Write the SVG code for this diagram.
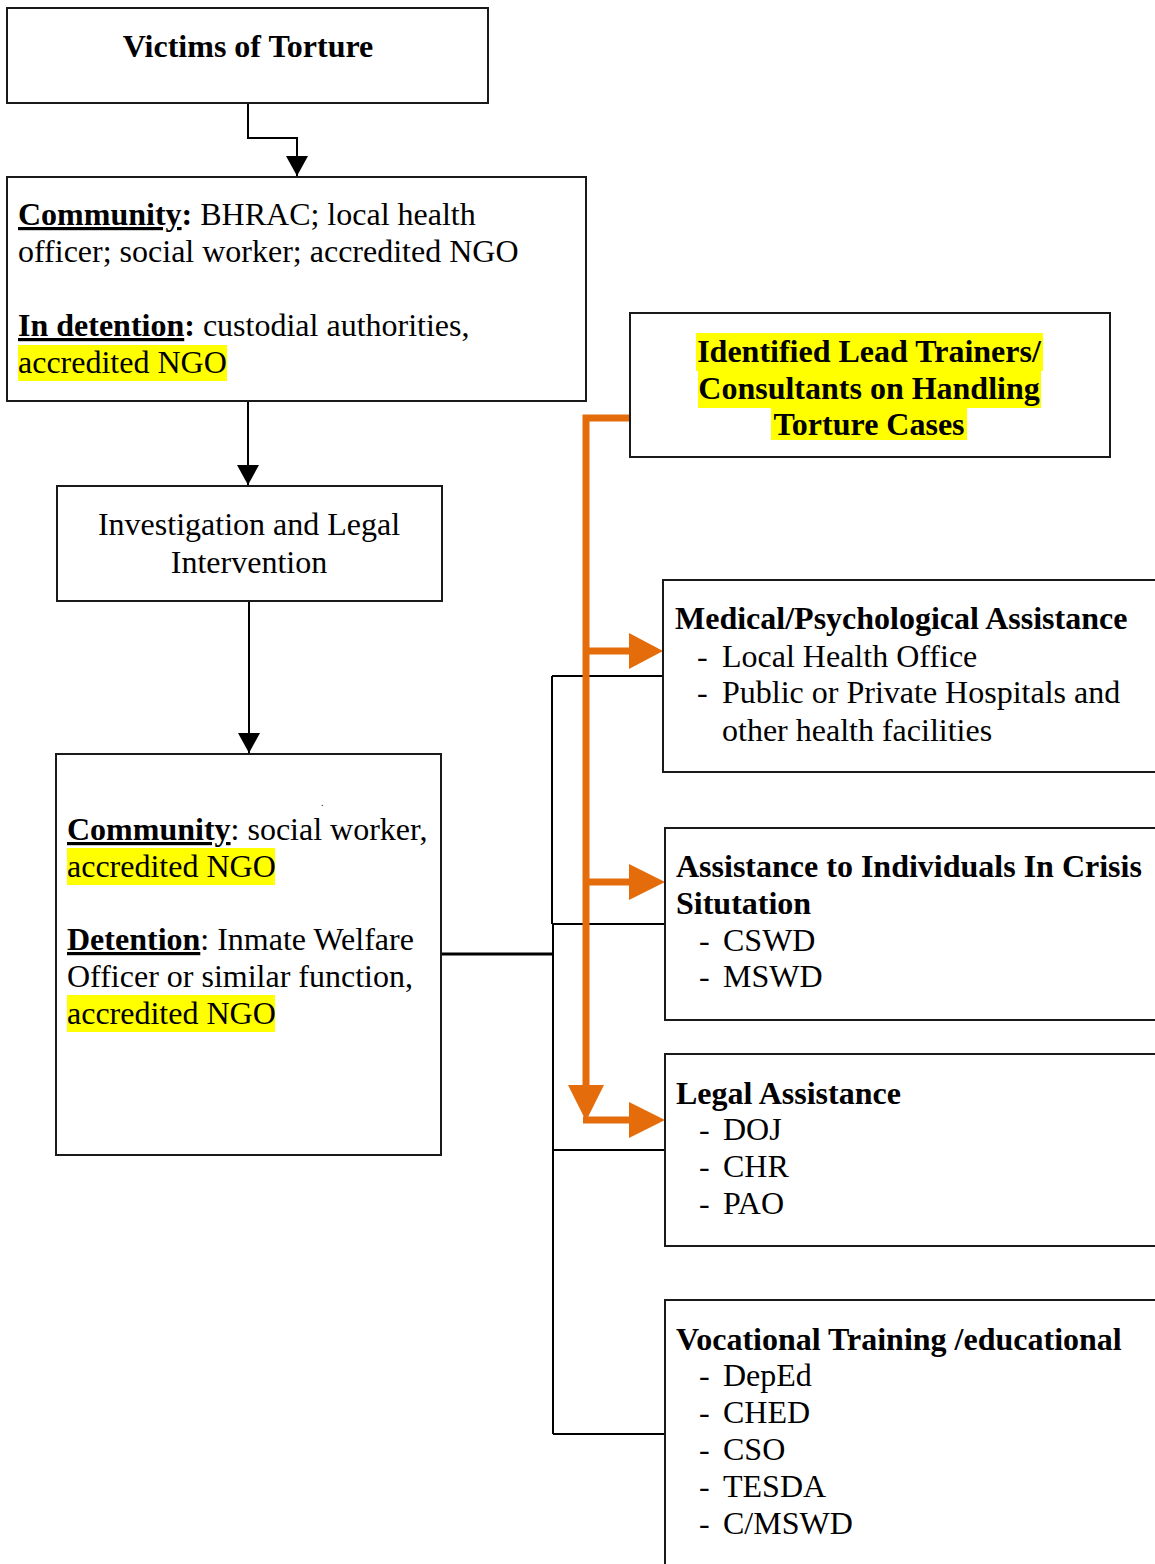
<svg xmlns="http://www.w3.org/2000/svg" width="1155" height="1564" viewBox="0 0 1155 1564">
<style>
.box{fill:#fff;stroke:#1a1a1a;stroke-width:2}
.t{font-family:"Liberation Serif","Times New Roman",serif;font-size:32px;fill:#000}
.b{font-weight:bold}
.u{text-decoration:underline}
.hl{fill:#ffff00}
.k{fill:none;stroke:#000;stroke-width:2}
.o{fill:none;stroke:#e46c0a;stroke-width:7}
.oh{fill:#e46c0a}
</style>
<defs>
<marker id="ah" viewBox="0 0 20 22" refX="20" refY="11" markerWidth="20" markerHeight="22" markerUnits="userSpaceOnUse" orient="auto"><path d="M0,0 L20,11 L0,22 Z" fill="#000"/></marker>
</defs>
<rect width="1155" height="1564" fill="#fff"/>
<g id="connectors">
<path class="k" d="M248,103 V138 H297 V176" marker-end="url(#ah)"/>
<path class="k" d="M248,401 V485" marker-end="url(#ah)"/>
<path class="k" d="M249,601 V753" marker-end="url(#ah)"/>
<path class="k" d="M441,954 H553" style="stroke-width:3"/>
<path class="k" d="M552,676 V924"/>
<path class="k" d="M553,924 V1434"/>
<path class="k" d="M552,676 H664"/>
<path class="k" d="M552,924 H666"/>
<path class="k" d="M553,1150 H666"/>
<path class="k" d="M553,1434 H666"/>
<path class="o" d="M633,418 H586 V1090"/>
<path class="o" d="M586,651 H631"/>
<path class="o" d="M586,882 H631"/>
<path class="o" d="M583,1120 H631"/>
<polygon class="oh" points="568,1085 604,1085 586,1121"/>
<polygon class="oh" points="629,633 663,651 629,669"/>
<polygon class="oh" points="629,864 665,882 629,900"/>
<polygon class="oh" points="629,1102 665,1120 629,1138"/>
</g>
<g id="victims">
<rect class="box" x="7" y="8" width="481" height="95"/>
<text class="t b" x="248" y="57" text-anchor="middle">Victims of Torture</text>
</g>
<g id="first-contact">
<rect class="box" x="7" y="177" width="579" height="224"/>
<rect class="hl" x="18" y="345" width="209" height="36"/>
<text class="t" x="18" y="225"><tspan class="b u">Community</tspan><tspan class="b">:</tspan> BHRAC; local health</text>
<text class="t" x="18" y="262">officer; social worker; accredited NGO</text>
<text class="t" x="18" y="336"><tspan class="b u">In detention</tspan><tspan class="b">:</tspan> custodial authorities,</text>
<text class="t" x="18" y="373">accredited NGO</text>
</g>
<g id="investigation">
<rect class="box" x="57" y="486" width="385" height="115"/>
<text class="t" x="249" y="535" text-anchor="middle">Investigation and Legal</text>
<text class="t" x="249" y="573" text-anchor="middle">Intervention</text>
</g>
<g id="case-management">
<rect class="box" x="56" y="754" width="385" height="401"/>
<rect class="hl" x="67" y="848" width="208" height="37"/>
<rect class="hl" x="67" y="995" width="208" height="37"/>
<text class="t" x="321" y="806" style="font-size:10px">.</text>
<text class="t" x="67" y="840"><tspan class="b u">Community</tspan>: social worker,</text>
<text class="t" x="67" y="877">accredited NGO</text>
<text class="t" x="67" y="950"><tspan class="b u">Detention</tspan>: Inmate Welfare</text>
<text class="t" x="67" y="987">Officer or similar function,</text>
<text class="t" x="67" y="1024">accredited NGO</text>
</g>
<g id="lead-trainers">
<rect class="box" x="630" y="313" width="480" height="144"/>
<rect class="hl" x="696" y="333" width="347" height="38"/>
<rect class="hl" x="698" y="371" width="343" height="37"/>
<rect class="hl" x="771" y="408" width="196" height="32"/>
<text class="t b" x="869" y="362" text-anchor="middle">Identified Lead Trainers/</text>
<text class="t b" x="869" y="399" text-anchor="middle">Consultants on Handling</text>
<text class="t b" x="869" y="435" text-anchor="middle">Torture Cases</text>
</g>
<g id="medical">
<rect class="box" x="663" y="580" width="510" height="192"/>
<text class="t b" x="675" y="629">Medical/Psychological Assistance</text>
<text class="t" x="697" y="667">-</text><text class="t" x="722" y="667">Local Health Office</text>
<text class="t" x="697" y="703">-</text><text class="t" x="722" y="703">Public or Private Hospitals and</text>
<text class="t" x="722" y="741">other health facilities</text>
</g>
<g id="crisis">
<rect class="box" x="665" y="828" width="510" height="192"/>
<text class="t b" x="676" y="877">Assistance to Individuals In Crisis</text>
<text class="t b" x="676" y="914">Situtation</text>
<text class="t" x="699" y="951">-</text><text class="t" x="723" y="951">CSWD</text>
<text class="t" x="699" y="987">-</text><text class="t" x="723" y="987">MSWD</text>
</g>
<g id="legal">
<rect class="box" x="665" y="1054" width="510" height="192"/>
<text class="t b" x="676" y="1104">Legal Assistance</text>
<text class="t" x="699" y="1140">-</text><text class="t" x="723" y="1140">DOJ</text>
<text class="t" x="699" y="1177">-</text><text class="t" x="723" y="1177">CHR</text>
<text class="t" x="699" y="1214">-</text><text class="t" x="723" y="1214">PAO</text>
</g>
<g id="vocational">
<rect class="box" x="665" y="1300" width="510" height="290"/>
<text class="t b" x="676" y="1350">Vocational Training /educational</text>
<text class="t" x="699" y="1386">-</text><text class="t" x="723" y="1386">DepEd</text>
<text class="t" x="699" y="1423">-</text><text class="t" x="723" y="1423">CHED</text>
<text class="t" x="699" y="1460">-</text><text class="t" x="723" y="1460">CSO</text>
<text class="t" x="699" y="1497">-</text><text class="t" x="723" y="1497">TESDA</text>
<text class="t" x="699" y="1534">-</text><text class="t" x="723" y="1534">C/MSWD</text>
</g>
</svg>
